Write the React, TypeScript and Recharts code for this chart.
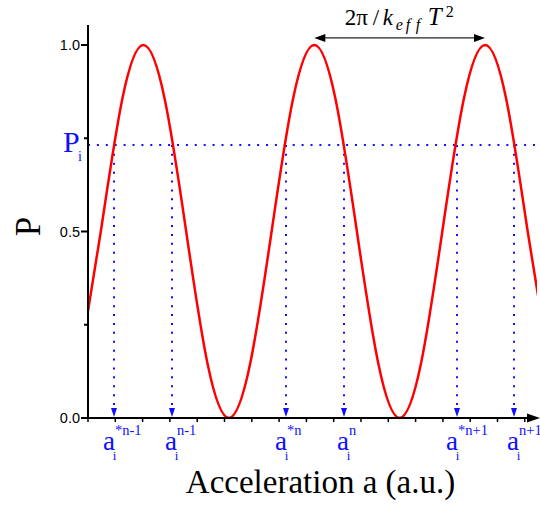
import { Line, LineChart, ReferenceDot, ReferenceLine, XAxis, YAxis } from "recharts";

// red transition curve (a in a.u., P)
const curveA = [-0.85, 1.28, 3.42, 5.55, 7.68, 9.82, 11.95, 14.09, 16.22, 18.36, 20.49, 22.63, 24.76, 26.89, 29.03, 31.16, 33.3, 35.43, 37.57, 39.7, 41.83, 43.97, 46.1];
const curveP = [0.146, 0.5, 0.854, 1, 0.854, 0.5, 0.146, 0, 0.146, 0.5, 0.854, 1, 0.854, 0.5, 0.146, 0, 0.146, 0.5, 0.854, 1, 0.854, 0.5, 0.146];

const pLevel = 0.732;
const crossA = [2.6, 8.4, 19.8, 25.6, 36.9, 42.6];
const crossSup = ["*n-1", "n-1", "*n", "n", "*n+1", "n+1"];
const periodPeaks = [22.63, 39.7];

const xTicks = [0, 2.73, 5.46, 8.19, 10.92, 13.65, 16.38, 19.11, 21.84, 24.57, 27.3, 30.03, 32.76, 35.49, 38.22, 40.95, 43.68];
const yTicks = [0, 0.25, 0.5, 0.75, 1];
const yTickLabels = ["0.0", "", "0.5", "", "1.0"];

const data = curveA.map((a, i) => ({ a, p: curveP[i] }));

const BLUE = "#1010ff";
const SERIF = "'Liberation Serif', 'Times New Roman', serif";
const SANS = "'Liberation Sans', Arial, sans-serif";

const YTick = ({ x, y, index }: any) => {
  const label = yTickLabels[index];
  const len = label ? 7 : 4;
  return (
    <g>
      <line x1={x - len} y1={y} x2={x} y2={y} stroke="#000" strokeWidth={2} />
      {label && (
        <text x={x - 8} y={y} dy="0.35em" textAnchor="end" fontSize={14.5} fontFamily={SANS} fill="#000">
          {label}
        </text>
      )}
    </g>
  );
};

const XTick = ({ x, y }: any) => <line x1={x} y1={y - 1} x2={x} y2={y + 4} stroke="#000" strokeWidth={1.5} />;

const CrossMark = ({ cx, cy, sup }: any) => {
  const ax = sup.startsWith("*") ? cx - 5 : cx - 1;
  return (
    <g>
      <polygon points={`${cx - 3},${cy - 10} ${cx + 3},${cy - 10} ${cx},${cy - 1}`} fill={BLUE} />
      <text x={ax} y={cy + 32} textAnchor="middle" fontSize={27} fontFamily={SERIF} fill={BLUE}>a</text>
      <text x={ax + 5.5} y={cy + 42} textAnchor="middle" fontSize={13} fontFamily={SERIF} fill={BLUE}>i</text>
      <text x={ax + 6} y={cy + 17} fontSize={14.5} fontFamily={SERIF} fill={BLUE}>{sup}</text>
    </g>
  );
};

const PeriodArrow = ({ x1, y1, x2 }: any) => {
  const c = (x1 + x2) / 2;
  const b = y1 - 13;
  return (
    <g fontFamily={SERIF} fill="#000">
      <line x1={x1 + 8} y1={y1} x2={x2 - 8} y2={y1} stroke="#222" strokeWidth={1.3} />
      <polygon points={`${x1},${y1} ${x1 + 11},${y1 - 4} ${x1 + 11},${y1 + 4}`} fill="#000" />
      <polygon points={`${x2},${y1} ${x2 - 11},${y1 - 4} ${x2 - 11},${y1 + 4}`} fill="#000" />
      <text x={c - 55} y={b} fontSize={23}>2π</text>
      <text x={c - 27} y={b} fontSize={23}>/</text>
      <text x={c - 17} y={b} fontSize={23} fontStyle="italic">k</text>
      <text x={c - 4} y={b + 5} fontSize={16} fontStyle="italic">e</text>
      <text x={c + 6} y={b + 5} fontSize={16} fontStyle="italic">f</text>
      <text x={c + 16} y={b + 5} fontSize={16} fontStyle="italic">f</text>
      <text x={c + 28} y={b} fontSize={25} fontStyle="italic">T</text>
      <text x={c + 46} y={b - 8} fontSize={16}>2</text>
    </g>
  );
};

const PiLabel = ({ viewBox }: any) => (
  <g fill={BLUE} fontFamily={SERIF}>
    <text x={viewBox.x - 25} y={viewBox.y + 7} fontSize={30}>P</text>
    <text x={viewBox.x - 10} y={viewBox.y + 16} fontSize={14}>i</text>
  </g>
);

const XTitle = ({ viewBox }: any) => (
  <text x={viewBox.x + viewBox.width / 2 + 8} y={viewBox.y + 75} textAnchor="middle" fontSize={33} fontFamily={SERIF} fill="#000">
    Acceleration a (a.u.)
  </text>
);

const YTitle = ({ viewBox }: any) => {
  const cx = viewBox.x + 32;
  const cy = viewBox.y + viewBox.height / 2 + 5;
  return (
    <text x={cx} y={cy} transform={`rotate(-90, ${cx}, ${cy})`} textAnchor="middle" fontSize={35} fontFamily={SERIF} fill="#000">
      P
    </text>
  );
};

export default function App() {
  return (
    <div style={{ position: "absolute", left: 0, top: 0, background: "#fff" }}>
      <LineChart width={540} height={506} data={data} margin={{ top: 25, right: 3, bottom: 58, left: 8 }}>
        <XAxis
          dataKey="a"
          type="number"
          domain={[0, 44.9]}
          allowDataOverflow
          ticks={xTicks}
          interval={0}
          tickSize={0}
          tickMargin={0}
          tickLine={false}
          tick={<XTick />}
          axisLine={{ stroke: "#000", strokeWidth: 2 }}
          height={30}
          label={{ content: XTitle }}
        />
        <YAxis
          type="number"
          domain={[0, 1.0536]}
          ticks={yTicks}
          interval={0}
          tickSize={0}
          tickMargin={0}
          tickLine={false}
          tick={<YTick />}
          axisLine={{ stroke: "#000", strokeWidth: 2 }}
          width={80}
          label={{ content: YTitle }}
        />
        <ReferenceLine y={pLevel} stroke={BLUE} strokeWidth={2} strokeDasharray="2 6.9" label={{ content: PiLabel }} />
        {crossA.map((a) => (
          <ReferenceLine
            key={`v${a}`}
            segment={[{ x: a, y: pLevel }, { x: a, y: 0 }]}
            stroke={BLUE}
            strokeWidth={2}
            strokeDasharray="2 6.9"
          />
        ))}
        {crossA.map((a, i) => (
          <ReferenceDot
            key={`m${a}`}
            x={a}
            y={0}
            ifOverflow="visible"
            shape={(p: any) => <CrossMark cx={p.cx} cy={p.cy} sup={crossSup[i]} />}
          />
        ))}
        <ReferenceLine segment={[{ x: periodPeaks[0], y: 1.019 }, { x: periodPeaks[1], y: 1.019 }]} shape={PeriodArrow} />
        <ReferenceDot
          x={44.9}
          y={0}
          ifOverflow="visible"
          shape={(p: any) => <polygon points={`${p.cx + 3},${p.cy} ${p.cx - 10},${p.cy - 4.5} ${p.cx - 10},${p.cy + 4.5}`} fill="#000" />}
        />
        <Line type="natural" dataKey="p" stroke="#ff0000" strokeWidth={2.5} dot={false} isAnimationActive={false} />
      </LineChart>
    </div>
  );
}
